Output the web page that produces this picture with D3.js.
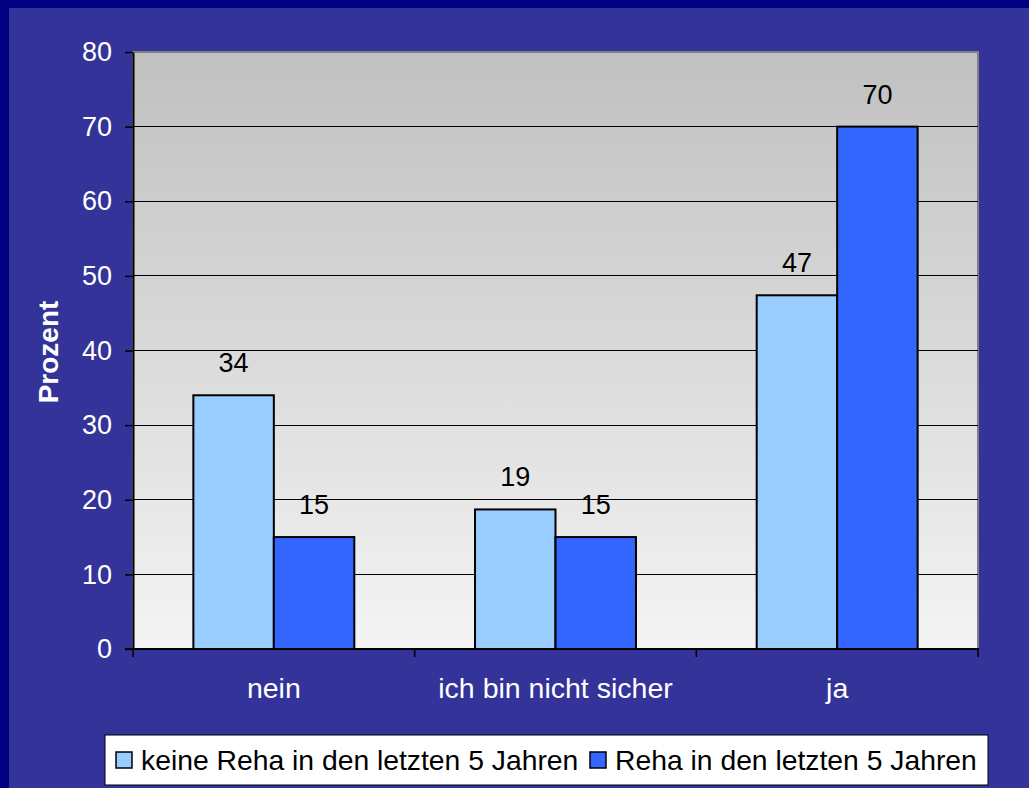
<!DOCTYPE html>
<html><head><meta charset="utf-8">
<script src="https://cdn.jsdelivr.net/npm/d3@7"></script>
<style>body{margin:0;background:#333399;}svg{display:block;}</style>
</head><body>
<script>
const categories = ["nein", "ich bin nicht sicher", "ja"];
const seriesNames = ["keine Reha in den letzten 5 Jahren", "Reha in den letzten 5 Jahren"];
const keineReha = [34, 18.7, 47.4];
const mitReha = [15, 15, 70];
const yTicks = [0, 10, 20, 30, 40, 50, 60, 70, 80];
const colors = ["#99ccff", "#3366ff"];

const W = 1029, H = 788;
const svg = d3.select("body").append("svg").attr("width", W).attr("height", H);
const font = "'Liberation Sans', Arial, sans-serif";
const fs = 27;

// background
svg.append("rect").attr("width", W).attr("height", H).attr("fill", "#333399");
svg.append("rect").attr("x", 0).attr("y", 0).attr("width", W).attr("height", 8).attr("fill", "#000080");
svg.append("rect").attr("x", 0).attr("y", 0).attr("width", 9).attr("height", H).attr("fill", "#000080");

const m = {left: 133, right: 978, top: 52, bottom: 649};
const x0 = d3.scaleBand().domain(categories).range([m.left, m.right]).paddingInner(0).paddingOuter(0);
const y = d3.scaleLinear().domain([0, 80]).range([m.bottom, m.top]);
const groupW = x0.bandwidth();
const barW = groupW / 3.5;
const x1 = d3.scaleBand().domain([0, 1]).range([0, 2 * barW]);

const defs = svg.append("defs");
const grad = defs.append("linearGradient").attr("id", "pg").attr("x1", 0).attr("y1", 0).attr("x2", 0).attr("y2", 1);
grad.append("stop").attr("offset", "0%").attr("stop-color", "#c0c0c0");
grad.append("stop").attr("offset", "100%").attr("stop-color", "#f4f4f4");

svg.append("rect").attr("x", m.left).attr("y", m.top).attr("width", m.right - m.left).attr("height", m.bottom - m.top)
  .attr("fill", "url(#pg)").attr("stroke", "#808080").attr("stroke-width", 2);

// gridlines
svg.append("g").selectAll("line").data(yTicks.filter(d => d > 0 && d < 80)).join("line")
  .attr("x1", m.left).attr("x2", m.right).attr("y1", d => y(d)).attr("y2", d => y(d))
  .attr("stroke", "#000").attr("stroke-width", 1).attr("shape-rendering", "crispEdges");

// bars
const data = categories.map((c, i) => ({c, vals: [keineReha[i], mitReha[i]]}));
const g = svg.append("g");
data.forEach(d => {
  d.vals.forEach((v, j) => {
    const bx = x0(d.c) + (groupW - 2 * barW) / 2 + x1(j);
    g.append("rect").attr("x", bx).attr("y", y(v)).attr("width", x1.bandwidth()).attr("height", y(0) - y(v))
      .attr("fill", colors[j]).attr("stroke", "#000").attr("stroke-width", 2);
    g.append("text").attr("x", bx + x1.bandwidth() / 2).attr("y", y(v) - 23)
      .attr("text-anchor", "middle").attr("font-family", font).attr("font-size", fs).attr("fill", "#000")
      .text(d3.format(".0f")(v));
  });
});

// y axis
const yAxis = svg.append("g").attr("transform", `translate(${m.left},0)`)
  .call(d3.axisLeft(y).tickValues(yTicks).tickSize(8).tickPadding(13).tickSizeOuter(0));
yAxis.attr("font-size", null).attr("font-family", null);
yAxis.select(".domain").attr("stroke", "#000").attr("stroke-width", 2);
yAxis.selectAll(".tick line").attr("stroke", "#000").attr("stroke-width", 1.5);
yAxis.selectAll("text").attr("fill", "#fff").style("font-family", font).style("font-size", fs + "px");

// x axis
const xAxis = svg.append("g").attr("transform", `translate(0,${m.bottom})`)
  .call(d3.axisBottom(x0).tickSize(0).tickPadding(29));
xAxis.attr("font-size", null).attr("font-family", null);
xAxis.select(".domain").attr("stroke", "#000").attr("stroke-width", 2).attr("d", `M${m.left - 8},0H${m.right + 1}`);
xAxis.selectAll("text").attr("fill", "#fff").style("font-family", font).style("font-size", "28.5px");
const bounds = [m.left, ...categories.map(c => x0(c) + groupW)];
xAxis.append("g").selectAll("line").data(bounds).join("line")
  .attr("x1", d => d).attr("x2", d => d).attr("y1", 0).attr("y2", 8).attr("stroke", "#000").attr("stroke-width", 1.5);

// y label
svg.append("text").attr("transform", "translate(58,352) rotate(-90)").attr("text-anchor", "middle")
  .attr("font-family", font).attr("font-size", 28).attr("font-weight", "bold").attr("fill", "#fff").text("Prozent");

// legend
const lg = svg.append("g");
lg.append("rect").attr("x", 105).attr("y", 735).attr("width", 883).attr("height", 50)
  .attr("fill", "#fff").attr("stroke", "#000").attr("stroke-width", 1);
const legX = [116, 590];
seriesNames.forEach((s, i) => {
  lg.append("rect").attr("x", legX[i]).attr("y", 752).attr("width", 16).attr("height", 16)
    .attr("fill", colors[i]).attr("stroke", "#000").attr("stroke-width", 1.5);
  lg.append("text").attr("x", legX[i] + 25).attr("y", 770).attr("font-family", font).attr("font-size", 28.3)
    .attr("fill", "#000").text(s);
});
</script>
</body></html>
